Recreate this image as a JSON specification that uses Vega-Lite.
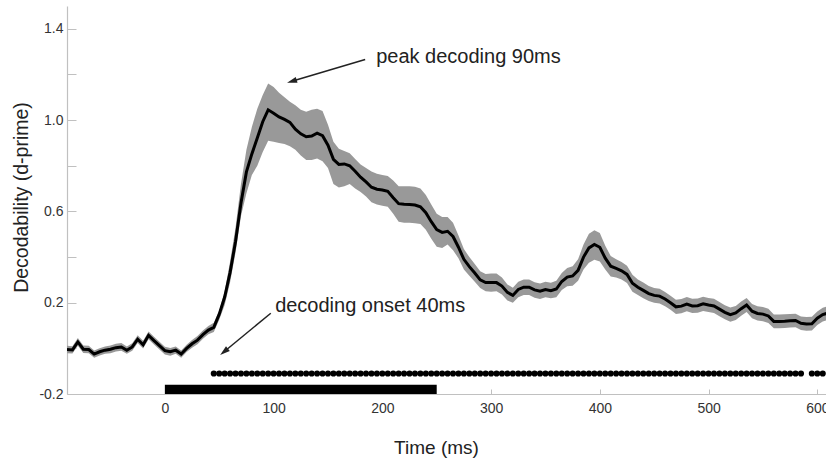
{
  "$schema": "https://vega.github.io/schema/vega-lite/v6.json",
  "width": 759,
  "height": 388,
  "autosize": {"type": "none"},
  "padding": {"left": 67, "top": 6, "right": 0, "bottom": 68},
  "config": {"view": {"stroke": null}, "font": "Liberation Sans"},
  "datasets": {
    "curve": [
      {"t": -90, "m": -0.005, "lo": -0.021, "hi": 0.011},
      {"t": -85, "m": -0.007, "lo": -0.023, "hi": 0.009},
      {"t": -80, "m": 0.028, "lo": 0.011, "hi": 0.045},
      {"t": -75, "m": -0.004, "lo": -0.02, "hi": 0.012},
      {"t": -70, "m": -0.005, "lo": -0.021, "hi": 0.011},
      {"t": -65, "m": -0.025, "lo": -0.041, "hi": -0.009},
      {"t": -60, "m": -0.015, "lo": -0.031, "hi": 0.001},
      {"t": -55, "m": -0.008, "lo": -0.024, "hi": 0.008},
      {"t": -50, "m": -0.004, "lo": -0.021, "hi": 0.013},
      {"t": -45, "m": 0.003, "lo": -0.014, "hi": 0.02},
      {"t": -40, "m": 0.006, "lo": -0.011, "hi": 0.023},
      {"t": -35, "m": -0.008, "lo": -0.024, "hi": 0.008},
      {"t": -30, "m": 0.006, "lo": -0.01, "hi": 0.022},
      {"t": -25, "m": 0.04, "lo": 0.023, "hi": 0.057},
      {"t": -20, "m": 0.016, "lo": -0.001, "hi": 0.033},
      {"t": -15, "m": 0.057, "lo": 0.04, "hi": 0.074},
      {"t": -10, "m": 0.034, "lo": 0.017, "hi": 0.051},
      {"t": -5, "m": 0.012, "lo": -0.005, "hi": 0.029},
      {"t": 0, "m": -0.01, "lo": -0.027, "hi": 0.007},
      {"t": 5, "m": -0.015, "lo": -0.032, "hi": 0.002},
      {"t": 10, "m": -0.008, "lo": -0.024, "hi": 0.008},
      {"t": 15, "m": -0.025, "lo": -0.041, "hi": -0.009},
      {"t": 20, "m": 0.0, "lo": -0.016, "hi": 0.016},
      {"t": 25, "m": 0.02, "lo": 0.003, "hi": 0.037},
      {"t": 30, "m": 0.036, "lo": 0.018, "hi": 0.054},
      {"t": 35, "m": 0.06, "lo": 0.042, "hi": 0.078},
      {"t": 40, "m": 0.08, "lo": 0.062, "hi": 0.098},
      {"t": 45, "m": 0.092, "lo": 0.072, "hi": 0.112},
      {"t": 50, "m": 0.15, "lo": 0.125, "hi": 0.165},
      {"t": 55, "m": 0.225, "lo": 0.19, "hi": 0.25},
      {"t": 60, "m": 0.333, "lo": 0.29, "hi": 0.38},
      {"t": 65, "m": 0.468, "lo": 0.42, "hi": 0.53},
      {"t": 70, "m": 0.637, "lo": 0.58, "hi": 0.72},
      {"t": 75, "m": 0.773, "lo": 0.68, "hi": 0.87},
      {"t": 80, "m": 0.852, "lo": 0.76, "hi": 0.97},
      {"t": 85, "m": 0.922, "lo": 0.8, "hi": 1.05},
      {"t": 90, "m": 0.993, "lo": 0.86, "hi": 1.11},
      {"t": 95, "m": 1.045, "lo": 0.91, "hi": 1.16},
      {"t": 100, "m": 1.03, "lo": 0.905, "hi": 1.145},
      {"t": 105, "m": 1.014, "lo": 0.9, "hi": 1.12},
      {"t": 110, "m": 1.003, "lo": 0.895, "hi": 1.1},
      {"t": 115, "m": 0.99, "lo": 0.885, "hi": 1.08},
      {"t": 120, "m": 0.96, "lo": 0.87, "hi": 1.065},
      {"t": 125, "m": 0.94, "lo": 0.845, "hi": 1.045},
      {"t": 130, "m": 0.927, "lo": 0.825, "hi": 1.037},
      {"t": 135, "m": 0.93, "lo": 0.825, "hi": 1.045},
      {"t": 140, "m": 0.943, "lo": 0.832, "hi": 1.05},
      {"t": 145, "m": 0.932, "lo": 0.82, "hi": 1.04},
      {"t": 150, "m": 0.89, "lo": 0.79, "hi": 0.98},
      {"t": 155, "m": 0.828, "lo": 0.72, "hi": 0.905},
      {"t": 160, "m": 0.806, "lo": 0.705, "hi": 0.875},
      {"t": 165, "m": 0.808, "lo": 0.71, "hi": 0.865},
      {"t": 170, "m": 0.8, "lo": 0.72, "hi": 0.855},
      {"t": 175, "m": 0.776, "lo": 0.7, "hi": 0.83},
      {"t": 180, "m": 0.75, "lo": 0.685, "hi": 0.805},
      {"t": 185, "m": 0.729, "lo": 0.665, "hi": 0.79},
      {"t": 190, "m": 0.706, "lo": 0.64, "hi": 0.775},
      {"t": 195, "m": 0.697, "lo": 0.63, "hi": 0.765},
      {"t": 200, "m": 0.694, "lo": 0.625, "hi": 0.76},
      {"t": 205, "m": 0.688, "lo": 0.62, "hi": 0.755},
      {"t": 210, "m": 0.66, "lo": 0.59, "hi": 0.735},
      {"t": 215, "m": 0.634, "lo": 0.555, "hi": 0.71},
      {"t": 220, "m": 0.631, "lo": 0.55, "hi": 0.71},
      {"t": 225, "m": 0.63, "lo": 0.55, "hi": 0.71},
      {"t": 230, "m": 0.628, "lo": 0.548, "hi": 0.708},
      {"t": 235, "m": 0.62, "lo": 0.545, "hi": 0.7},
      {"t": 240, "m": 0.594, "lo": 0.52, "hi": 0.672},
      {"t": 245, "m": 0.555, "lo": 0.48, "hi": 0.63},
      {"t": 250, "m": 0.52, "lo": 0.445, "hi": 0.59},
      {"t": 255, "m": 0.508, "lo": 0.44, "hi": 0.575},
      {"t": 260, "m": 0.513, "lo": 0.455, "hi": 0.575},
      {"t": 265, "m": 0.49, "lo": 0.43, "hi": 0.55},
      {"t": 270, "m": 0.443, "lo": 0.395, "hi": 0.495},
      {"t": 275, "m": 0.39, "lo": 0.345, "hi": 0.435},
      {"t": 280, "m": 0.358, "lo": 0.318, "hi": 0.4},
      {"t": 285, "m": 0.33, "lo": 0.292, "hi": 0.37},
      {"t": 290, "m": 0.3, "lo": 0.264, "hi": 0.338},
      {"t": 295, "m": 0.288, "lo": 0.25, "hi": 0.326},
      {"t": 300, "m": 0.288, "lo": 0.248, "hi": 0.328},
      {"t": 305, "m": 0.288, "lo": 0.25, "hi": 0.328},
      {"t": 310, "m": 0.273, "lo": 0.236, "hi": 0.31},
      {"t": 315, "m": 0.245, "lo": 0.21, "hi": 0.28},
      {"t": 320, "m": 0.232, "lo": 0.2, "hi": 0.265},
      {"t": 325, "m": 0.258, "lo": 0.224, "hi": 0.292},
      {"t": 330, "m": 0.268, "lo": 0.234, "hi": 0.302},
      {"t": 335, "m": 0.268, "lo": 0.234, "hi": 0.302},
      {"t": 340, "m": 0.256, "lo": 0.222, "hi": 0.29},
      {"t": 345, "m": 0.25, "lo": 0.216, "hi": 0.284},
      {"t": 350, "m": 0.258, "lo": 0.224, "hi": 0.292},
      {"t": 355, "m": 0.253, "lo": 0.219, "hi": 0.287},
      {"t": 360, "m": 0.26, "lo": 0.224, "hi": 0.296},
      {"t": 365, "m": 0.293, "lo": 0.256, "hi": 0.33},
      {"t": 370, "m": 0.312, "lo": 0.272, "hi": 0.352},
      {"t": 375, "m": 0.317, "lo": 0.274, "hi": 0.36},
      {"t": 380, "m": 0.342, "lo": 0.296, "hi": 0.39},
      {"t": 385, "m": 0.4, "lo": 0.345, "hi": 0.455},
      {"t": 390, "m": 0.44, "lo": 0.375, "hi": 0.502},
      {"t": 395, "m": 0.455, "lo": 0.388, "hi": 0.518},
      {"t": 400, "m": 0.443, "lo": 0.38, "hi": 0.505},
      {"t": 405, "m": 0.395, "lo": 0.345, "hi": 0.45},
      {"t": 410, "m": 0.36, "lo": 0.315, "hi": 0.405},
      {"t": 415, "m": 0.35, "lo": 0.31, "hi": 0.39},
      {"t": 420, "m": 0.34, "lo": 0.302, "hi": 0.378},
      {"t": 425, "m": 0.324, "lo": 0.286, "hi": 0.362},
      {"t": 430, "m": 0.285, "lo": 0.248, "hi": 0.322},
      {"t": 435, "m": 0.268, "lo": 0.234, "hi": 0.302},
      {"t": 440, "m": 0.254, "lo": 0.22, "hi": 0.288},
      {"t": 445, "m": 0.24, "lo": 0.207, "hi": 0.273},
      {"t": 450, "m": 0.232, "lo": 0.2, "hi": 0.264},
      {"t": 455, "m": 0.229, "lo": 0.197, "hi": 0.261},
      {"t": 460, "m": 0.216, "lo": 0.185, "hi": 0.247},
      {"t": 465, "m": 0.2, "lo": 0.169, "hi": 0.231},
      {"t": 470, "m": 0.182, "lo": 0.151, "hi": 0.213},
      {"t": 475, "m": 0.185, "lo": 0.154, "hi": 0.216},
      {"t": 480, "m": 0.194, "lo": 0.163, "hi": 0.225},
      {"t": 485, "m": 0.186, "lo": 0.155, "hi": 0.217},
      {"t": 490, "m": 0.187, "lo": 0.156, "hi": 0.218},
      {"t": 495, "m": 0.195, "lo": 0.164, "hi": 0.226},
      {"t": 500, "m": 0.19, "lo": 0.159, "hi": 0.221},
      {"t": 505, "m": 0.186, "lo": 0.155, "hi": 0.217},
      {"t": 510, "m": 0.172, "lo": 0.141, "hi": 0.203},
      {"t": 515, "m": 0.158, "lo": 0.127, "hi": 0.189},
      {"t": 520, "m": 0.148, "lo": 0.117, "hi": 0.179},
      {"t": 525, "m": 0.155, "lo": 0.124, "hi": 0.186},
      {"t": 530, "m": 0.174, "lo": 0.143, "hi": 0.205},
      {"t": 535, "m": 0.19, "lo": 0.159, "hi": 0.221},
      {"t": 540, "m": 0.163, "lo": 0.132, "hi": 0.194},
      {"t": 545, "m": 0.153, "lo": 0.122, "hi": 0.184},
      {"t": 550, "m": 0.15, "lo": 0.119, "hi": 0.181},
      {"t": 555, "m": 0.142, "lo": 0.111, "hi": 0.173},
      {"t": 560, "m": 0.118, "lo": 0.088, "hi": 0.148},
      {"t": 565, "m": 0.118, "lo": 0.088, "hi": 0.148},
      {"t": 570, "m": 0.119, "lo": 0.089, "hi": 0.149},
      {"t": 575, "m": 0.121, "lo": 0.091, "hi": 0.151},
      {"t": 580, "m": 0.122, "lo": 0.092, "hi": 0.152},
      {"t": 585, "m": 0.11, "lo": 0.08, "hi": 0.14},
      {"t": 590, "m": 0.107, "lo": 0.077, "hi": 0.137},
      {"t": 595, "m": 0.108, "lo": 0.078, "hi": 0.138},
      {"t": 600, "m": 0.132, "lo": 0.102, "hi": 0.162},
      {"t": 605, "m": 0.148, "lo": 0.118, "hi": 0.178},
      {"t": 610, "m": 0.155, "lo": 0.125, "hi": 0.185}
    ],
    "dots": [
      {"t": 45}, {"t": 50}, {"t": 55}, {"t": 60}, {"t": 65}, {"t": 70}, {"t": 75}, {"t": 80}, {"t": 85}, {"t": 90},
      {"t": 95}, {"t": 100}, {"t": 105}, {"t": 110}, {"t": 115}, {"t": 120}, {"t": 125}, {"t": 130}, {"t": 135}, {"t": 140},
      {"t": 145}, {"t": 150}, {"t": 155}, {"t": 160}, {"t": 165}, {"t": 170}, {"t": 175}, {"t": 180}, {"t": 185}, {"t": 190},
      {"t": 195}, {"t": 200}, {"t": 205}, {"t": 210}, {"t": 215}, {"t": 220}, {"t": 225}, {"t": 230}, {"t": 235}, {"t": 240},
      {"t": 245}, {"t": 250}, {"t": 255}, {"t": 260}, {"t": 265}, {"t": 270}, {"t": 275}, {"t": 280}, {"t": 285}, {"t": 290},
      {"t": 295}, {"t": 300}, {"t": 305}, {"t": 310}, {"t": 315}, {"t": 320}, {"t": 325}, {"t": 330}, {"t": 335}, {"t": 340},
      {"t": 345}, {"t": 350}, {"t": 355}, {"t": 360}, {"t": 365}, {"t": 370}, {"t": 375}, {"t": 380}, {"t": 385}, {"t": 390},
      {"t": 395}, {"t": 400}, {"t": 405}, {"t": 410}, {"t": 415}, {"t": 420}, {"t": 425}, {"t": 430}, {"t": 435}, {"t": 440},
      {"t": 445}, {"t": 450}, {"t": 455}, {"t": 460}, {"t": 465}, {"t": 470}, {"t": 475}, {"t": 480}, {"t": 485}, {"t": 490},
      {"t": 495}, {"t": 500}, {"t": 505}, {"t": 510}, {"t": 515}, {"t": 520}, {"t": 525}, {"t": 530}, {"t": 535}, {"t": 540},
      {"t": 545}, {"t": 550}, {"t": 555}, {"t": 560}, {"t": 565}, {"t": 570}, {"t": 575}, {"t": 580}, {"t": 585},
      {"t": 595}, {"t": 600}, {"t": 605}
    ]
  },
  "layer": [
    {
      "data": {"name": "curve"},
      "mark": {"type": "area", "color": "#999999", "opacity": 1, "clip": true},
      "encoding": {
        "x": {
          "field": "t", "type": "quantitative", "title": "Time (ms)",
          "scale": {"domain": [-90, 608], "nice": false, "zero": false},
          "axis": {
            "title": "Time (ms)", "values": [0, 100, 200, 300, 400, 500, 600],
            "tickSize": -5, "labelPadding": 12, "grid": false,
            "domainColor": "#c0c0c0", "domainWidth": 1.2, "tickColor": "#c0c0c0", "tickWidth": 1,
            "labelFontSize": 14, "labelColor": "#333333", "labelFont": "Liberation Sans",
            "labelFlush": false, "labelOverlap": false,
            "titleFontSize": 19, "titleFontWeight": "normal", "titleColor": "#222222", "titleFont": "Liberation Sans",
            "titleX": 369, "titleY": 59, "titleBaseline": "alphabetic", "titleAlign": "center"
          }
        },
        "y": {
          "field": "lo", "type": "quantitative", "title": "Decodability (d-prime)",
          "scale": {"domain": [-0.2, 1.5], "nice": false, "zero": false},
          "axis": {
            "title": "Decodability (d-prime)", "values": [-0.2, 0, 0.2, 0.4, 0.6, 0.8, 1, 1.2, 1.4],
            "labelExpr": "abs(datum.value - 0.2) < 0.01 ? '0.2' : abs(datum.value - 0.6) < 0.01 ? '0.6' : abs(datum.value - 1) < 0.01 ? '1.0' : abs(datum.value - 1.4) < 0.01 ? '1.4' : datum.value < -0.1 ? '-0.2' : ''",
            "tickSize": -9, "labelPadding": 13, "grid": false,
            "domainColor": "#c0c0c0", "domainWidth": 1.2, "tickColor": "#c0c0c0", "tickWidth": 1,
            "labelFontSize": 14, "labelColor": "#333333", "labelFont": "Liberation Sans",
            "labelFlush": false, "labelOverlap": false,
            "titleFontSize": 19.5, "titleFontWeight": "normal", "titleColor": "#222222", "titleFont": "Liberation Sans",
            "titleX": -39.5, "titleY": 191, "titleBaseline": "alphabetic", "titleAlign": "center", "titleAngle": 270
          }
        },
        "y2": {"field": "hi"}
      }
    },
    {
      "data": {"name": "curve"},
      "mark": {"type": "line", "color": "#000000", "strokeWidth": 3, "clip": true},
      "encoding": {
        "x": {"field": "t", "type": "quantitative", "title": "Time (ms)", "scale": {"domain": [-90, 608], "nice": false, "zero": false}},
        "y": {"field": "m", "type": "quantitative", "title": "Decodability (d-prime)", "scale": {"domain": [-0.2, 1.5], "nice": false, "zero": false}}
      }
    },
    {
      "data": {"values": [{"start": 0, "end": 250}]},
      "mark": {"type": "rect", "color": "#000000"},
      "encoding": {
        "x": {"field": "start", "type": "quantitative", "title": "Time (ms)", "scale": {"domain": [-90, 608], "nice": false, "zero": false}},
        "x2": {"field": "end"},
        "y": {"datum": -0.2, "type": "quantitative", "title": "Decodability (d-prime)", "scale": {"domain": [-0.2, 1.5], "nice": false, "zero": false}},
        "y2": {"datum": -0.16}
      }
    },
    {
      "data": {"name": "dots"},
      "mark": {"type": "circle", "color": "#000000", "size": 38, "opacity": 1, "clip": true},
      "encoding": {
        "x": {"field": "t", "type": "quantitative", "title": "Time (ms)", "scale": {"domain": [-90, 608], "nice": false, "zero": false}},
        "y": {"datum": -0.11, "type": "quantitative", "title": "Decodability (d-prime)", "scale": {"domain": [-0.2, 1.5], "nice": false, "zero": false}}
      }
    },
    {
      "data": {"values": [
        {"t1": 184.2, "v1": 1.266, "t2": 116.8, "v2": 1.17},
        {"t1": 97.4, "v1": 0.154, "t2": 54.4, "v2": -0.015}
      ]},
      "mark": {"type": "rule", "color": "#222222", "strokeWidth": 1.5},
      "encoding": {
        "x": {"field": "t1", "type": "quantitative", "title": "Time (ms)", "scale": {"domain": [-90, 608], "nice": false, "zero": false}},
        "y": {"field": "v1", "type": "quantitative", "title": "Decodability (d-prime)", "scale": {"domain": [-0.2, 1.5], "nice": false, "zero": false}},
        "x2": {"field": "t2"},
        "y2": {"field": "v2"}
      }
    },
    {
      "data": {"values": [{"t": 116.8, "v": 1.17}]},
      "mark": {"type": "point", "shape": "M0,-1L0.6,1L-0.6,1Z", "filled": true, "color": "#222222", "size": 100, "opacity": 1, "angle": 253},
      "encoding": {
        "x": {"field": "t", "type": "quantitative", "title": "Time (ms)", "scale": {"domain": [-90, 608], "nice": false, "zero": false}},
        "y": {"field": "v", "type": "quantitative", "title": "Decodability (d-prime)", "scale": {"domain": [-0.2, 1.5], "nice": false, "zero": false}}
      }
    },
    {
      "data": {"values": [{"t": 54.4, "v": -0.015}]},
      "mark": {"type": "point", "shape": "M0,-1L0.6,1L-0.6,1Z", "filled": true, "color": "#222222", "size": 100, "opacity": 1, "angle": 231},
      "encoding": {
        "x": {"field": "t", "type": "quantitative", "title": "Time (ms)", "scale": {"domain": [-90, 608], "nice": false, "zero": false}},
        "y": {"field": "v", "type": "quantitative", "title": "Decodability (d-prime)", "scale": {"domain": [-0.2, 1.5], "nice": false, "zero": false}}
      }
    },
    {
      "data": {"values": [
        {"label": "peak decoding 90ms", "t": 194.3, "v": 1.249},
        {"label": "decoding onset 40ms", "t": 101.4, "v": 0.161}
      ]},
      "mark": {"type": "text", "align": "left", "baseline": "alphabetic", "fontSize": 20, "color": "#222222", "font": "Liberation Sans"},
      "encoding": {
        "x": {"field": "t", "type": "quantitative", "title": "Time (ms)", "scale": {"domain": [-90, 608], "nice": false, "zero": false}},
        "y": {"field": "v", "type": "quantitative", "title": "Decodability (d-prime)", "scale": {"domain": [-0.2, 1.5], "nice": false, "zero": false}},
        "text": {"field": "label"}
      }
    }
  ]
}
